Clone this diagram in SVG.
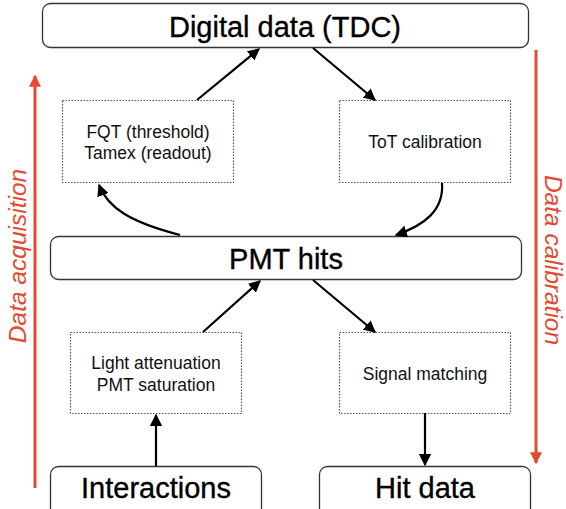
<svg xmlns="http://www.w3.org/2000/svg" width="566" height="509" viewBox="0 0 566 509">
<defs>
<marker id="ah" viewBox="0 0 10 10" refX="9" refY="5" markerWidth="5.5" markerHeight="5.5" orient="auto-start-reverse" markerUnits="strokeWidth"><path d="M0,0 L10,5 L0,10 z" fill="#000"/></marker>
<marker id="ahr" viewBox="0 0 10 10" refX="9" refY="5" markerWidth="4" markerHeight="4" orient="auto-start-reverse" markerUnits="strokeWidth"><path d="M0,0 L10,5 L0,10 z" fill="#e34a33"/></marker>
</defs>
<style>
.solid{fill:#fff;stroke:#333;stroke-width:1.3}
.dot{fill:#fff;stroke:#555;stroke-width:1.2;stroke-dasharray:1.5 1.5}
.big{font-family:"Liberation Sans",Arial,sans-serif;font-size:29px;fill:#000;stroke:#000;stroke-width:0.35;text-anchor:middle}
.sm{font-family:"Liberation Sans",Arial,sans-serif;font-size:17.5px;fill:#111;text-anchor:middle}
.red{font-family:"Liberation Sans",Arial,sans-serif;font-size:24.5px;font-style:italic;fill:#e34a33;text-anchor:middle}
.c{fill:none;stroke:#000;stroke-width:2.2;marker-end:url(#ah)}
.rl{fill:none;stroke:#e34a33;stroke-width:3;marker-end:url(#ahr)}
</style>
<rect width="566" height="509" fill="#fff"/>
<g id="n-digital"><rect class="solid" x="42.5" y="3.5" width="486" height="44" rx="8"/><text class="big" x="285" y="37">Digital data (TDC)</text></g>
<g id="n-fqt"><rect class="dot" x="62.5" y="100.5" width="171" height="82"/><text class="sm" x="148" y="138">FQT (threshold)</text><text class="sm" x="148" y="159">Tamex (readout)</text></g>
<g id="n-tot"><rect class="dot" x="339.5" y="100.5" width="171" height="82"/><text class="sm" x="425" y="148">ToT calibration</text></g>
<g id="n-pmt"><rect class="solid" x="50.5" y="236.5" width="471" height="43" rx="8"/><text class="big" x="286" y="269">PMT hits</text></g>
<g id="n-light"><rect class="dot" x="70.5" y="332.5" width="171" height="81"/><text class="sm" x="156" y="369">Light attenuation</text><text class="sm" x="156" y="391">PMT saturation</text></g>
<g id="n-signal"><rect class="dot" x="339.5" y="332.5" width="171" height="81"/><text class="sm" x="425" y="380">Signal matching</text></g>
<g id="n-inter"><rect class="solid" x="50.5" y="466.5" width="211" height="50" rx="8"/><text class="big" x="156" y="498">Interactions</text></g>
<g id="n-hit"><rect class="solid" x="319.5" y="466.5" width="211" height="50" rx="8"/><text class="big" x="425" y="498">Hit data</text></g>
<g id="connectors">
<path class="c" d="M197,100 L259,49"/>
<path class="c" d="M313,48 L375,100"/>
<path class="c" d="M180,235 C130,222 108,208 99,185"/>
<path class="c" d="M442,183 C444,210 425,225 396,235"/>
<path class="c" d="M203,332 L260,281"/>
<path class="c" d="M313,280 L375,332"/>
<path class="c" d="M156,466 L156,415"/>
<path class="c" d="M425,413 L425,465"/>
<path class="rl" d="M35,488 L35,76"/>
<path class="rl" d="M536,50 L536,463"/>
</g>
<text class="red" transform="translate(26,256) rotate(-90)">Data acquisition</text>
<text class="red" transform="translate(545,260) rotate(90)">Data calibration</text>
</svg>
